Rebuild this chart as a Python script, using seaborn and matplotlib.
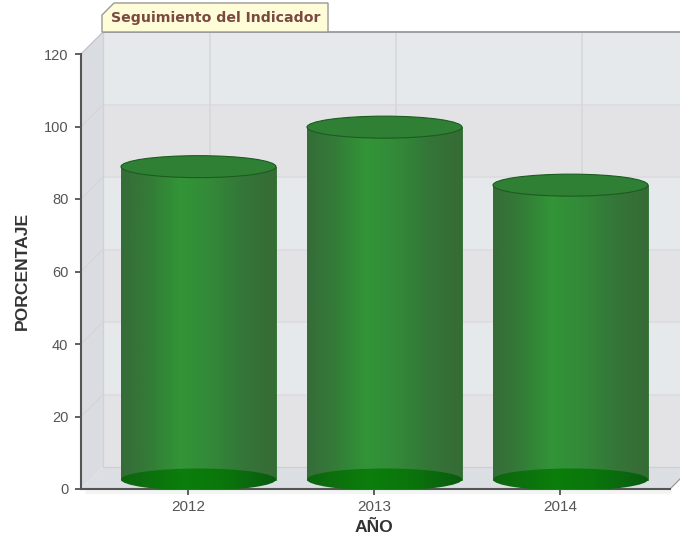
import matplotlib
matplotlib.use("Agg")
import numpy as np
import pandas as pd
import seaborn as sns
import matplotlib.pyplot as plt
from matplotlib.colors import LinearSegmentedColormap
from matplotlib.patches import Ellipse, Polygon, Rectangle
from matplotlib.transforms import Affine2D

# ---- data ----
years = ["2012", "2013", "2014"]
values = [86.3, 97.2, 81.2]
y_ticks = [0, 20, 40, 60, 80, 100, 120]
title_text = "Seguimiento del Indicador"
x_label = "AÑO"
y_label = "PORCENTAJE"

# ---- style ----
W, H = 680, 535
L, R, B, T = 81, 670, 489, 54
DEPTH = 22          # 3D offset of the back wall, px
LIFT = 9.5          # cylinder base centre above the axis, px
BAR_W = 155 / 186
TICK_SHIFT = 10.5 / 186
ELL_H_PX = 22

sns.set_theme(style="white")
plt.rcParams["font.family"] = ["Liberation Sans", "DejaVu Sans"]

fig = plt.figure(figsize=(W / 100, H / 100), dpi=100, facecolor="white")
ax = fig.add_axes([L / W, 1 - B / H, (R - L) / W, (B - T) / H])
ax.patch.set_visible(False)

df = pd.DataFrame({"year": years, "value": values})
sns.barplot(data=df, x="year", y="value", width=BAR_W, color="#32883a",
            saturation=1, ax=ax, zorder=5, err_kws={"linewidth": 0})

ax.set_xlim(-117.5 / 186, 471.5 / 186)
ax.set_ylim(0, 120)
ppu = (B - T) / 120

back = ax.transData + Affine2D().translate(DEPTH, DEPTH)
lift = ax.transData + Affine2D().translate(0, LIFT)
x0, x1 = ax.get_xlim()
dx = DEPTH / 186
dy = DEPTH / ppu

# walls
for i, (a, b) in enumerate(zip(y_ticks[:-1], y_ticks[1:])):
    col = "#e3e3e6" if i % 2 == 0 else "#e6e9ec"
    ax.add_patch(Rectangle((x0, a), x1 - x0, b - a, transform=back, fc=col, ec="none",
                           clip_on=False, zorder=0.5))
ax.add_patch(Polygon([(x0, 0), (x0 + dx, dy), (x0 + dx, 120 + dy), (x0, 120)], fc="#d9dde1",
                     ec="none", clip_on=False, zorder=0.6))
ax.add_patch(Polygon([(x0, 0), (x0 + dx, dy), (x1 + dx, dy), (x1, 0)], fc="#dbdee2",
                     ec="none", clip_on=False, zorder=0.6))
for v in y_ticks[1:-1]:
    ax.plot([x0, x1], [v, v], transform=back, color="#dcdcdf", lw=1.2, clip_on=False, zorder=0.8)
    ax.plot([x0, x0 + dx], [v, v + dy], color="#d2d5d9", lw=0.8, clip_on=False, zorder=0.8)
ax.plot([x0, x1], [0, 0], transform=back, color="#d0d0d0", lw=0.9, clip_on=False, zorder=0.8)
ax.plot([x0, x0], [0, 120], transform=back, color="#d0d3d6", lw=0.9, clip_on=False, zorder=0.8)
for i in range(len(years)):
    ax.plot([i - TICK_SHIFT] * 2, [0, 120], transform=back, color="#d7d8db", lw=1.2,
            clip_on=False, zorder=0.8)
ax.plot([x0, x1], [120, 120], transform=back, color="#9a9a9a", lw=1.3, clip_on=False, zorder=1)
ax.plot([x0, x0 + dx], [120, 120 + dy], color="#c0c3c6", lw=0.9, clip_on=False, zorder=1)
ax.plot([x1, x1 + dx], [0, dy], color="#999999", lw=0.9, clip_on=False, zorder=1)
ax.plot([x0 + 0.03, x1], [-0.9, -0.9], color="#f4f4f4", lw=3, clip_on=False, zorder=0.4)

# cylinders: geometry taken from the bars seaborn drew
body_cmap = LinearSegmentedColormap.from_list("body", [
    (0.0, "#376c38"), (0.18, "#357b38"), (0.38, "#329636"), (0.55, "#348c39"),
    (0.78, "#357738"), (1.0, "#386a36")])
base_cmap = LinearSegmentedColormap.from_list("base", [
    (0.0, "#0d650f"), (0.4, "#0b7e0b"), (0.65, "#0a760b"), (1.0, "#0a5c10")])
grad = np.linspace(0, 1, 256).reshape(1, -1)
ell_h = ELL_H_PX / ppu

for bar in list(ax.patches):
    if not isinstance(bar, Rectangle) or bar.get_zorder() != 5:
        continue
    xl, w, h = bar.get_x(), bar.get_width(), bar.get_height()
    xc = xl + w / 2
    bar.set_transform(lift)
    bar.set_clip_on(False)
    bar.set_edgecolor("#2a6b2c")
    bar.set_linewidth(0.6)
    im = ax.imshow(grad, cmap=body_cmap, extent=(xl, xl + w, 0, h), aspect="auto",
                   alpha=0.97, zorder=5.1, transform=lift, interpolation="bilinear")
    im.set_clip_on(False)
    base = Ellipse((xc, 0), w, ell_h, transform=lift, fc="none", ec="none", zorder=5.2)
    ax.add_patch(base)
    base.set_clip_on(False)
    im2 = ax.imshow(grad, cmap=base_cmap, extent=(xl, xl + w, -ell_h / 2, ell_h / 2),
                    aspect="auto", zorder=5.3, transform=lift, interpolation="bilinear")
    im2.set_clip_path(base)
    top = Ellipse((xc, h), w, ell_h, transform=lift, fc="#2f8035", ec="#1c5c20", lw=0.8,
                  zorder=5.4, clip_on=False)
    ax.add_patch(top)

ax.set_xlim(-117.5 / 186, 471.5 / 186)
ax.set_ylim(0, 120)

# axes
for s in ["top", "right"]:
    ax.spines[s].set_visible(False)
for s in ["left", "bottom"]:
    ax.spines[s].set_color("#555555")
    ax.spines[s].set_linewidth(1.5)
    ax.spines[s].set_zorder(4)
ax.set_yticks(y_ticks)
ax.set_xticks([i - TICK_SHIFT for i in range(len(years))], years)
ax.tick_params(axis="both", length=4, width=1.2, color="#444444", labelcolor="#555555",
               left=True, bottom=True)
ax.tick_params(axis="y", labelsize=10.5, pad=5)
ax.tick_params(axis="x", labelsize=11, pad=4)
ax.set_xlabel("")
ax.set_ylabel("")
ax.grid(False)

fig.text(374 / W, 1 - 527 / H, x_label, ha="center", va="center", fontsize=12.6,
         fontweight="bold", color="#333333")
fig.text(22 / W, 1 - 271 / H, y_label, ha="center", va="center", rotation=90, fontsize=12.6,
         fontweight="bold", color="#333333")

# title tab
tab_pts = [(102, 32), (102, 15), (114, 3), (328, 3), (328, 32)]
fig.add_artist(Polygon([(x / W, 1 - y / H) for x, y in tab_pts], closed=True,
                       transform=fig.transFigure, fc="#fffdd8", ec="#999999", lw=1.0))
fig.text(215.5 / W, 1 - 18 / H, title_text, ha="center", va="center", fontsize=10.2,
         fontweight="bold", color="#7a4a42", family="DejaVu Sans")

fig.savefig("out.png", dpi=100, facecolor="white")
